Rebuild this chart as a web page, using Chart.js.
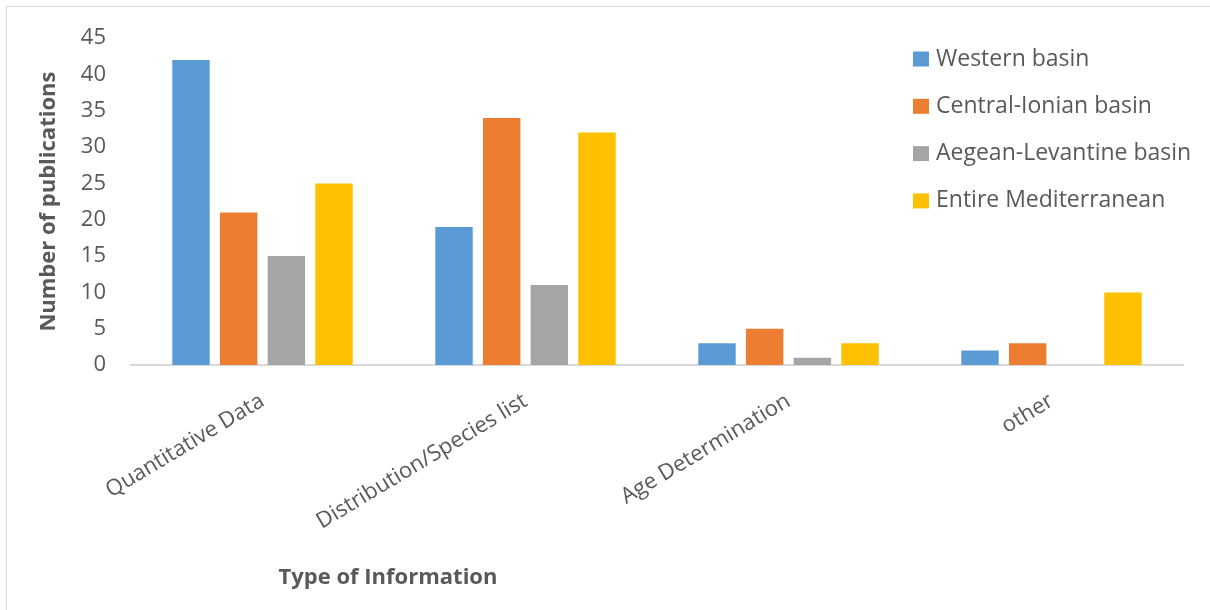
<!DOCTYPE html>
<html>
<head>
<meta charset="utf-8">
<script src="https://cdn.jsdelivr.net/npm/chart.js@4.4.0/dist/chart.umd.min.js"></script>
<style>
    html, body { margin: 0; padding: 0; background: #fff; overflow: hidden; }
    #frame {
        position: absolute; left: 6px; top: 6px;
        width: 1220px; height: 620px;
        border: 1px solid #d9d9d9;
    }
    #chart { position: absolute; left: 0; top: 0; }
</style>
</head>
<body>
<div id="frame"></div>
<canvas id="chart" width="1210" height="610"></canvas>
<script>
// Publications per type of information, split by Mediterranean sub-basin
const categories = ["Quantitative Data", "Distribution/Species list", "Age Determination", "other"];
const seriesNames = ["Western basin", "Central-Ionian basin", "Aegean-Levantine basin", "Entire Mediterranean"];
const western = [42, 19, 3, 2];
const centralIonian = [21, 34, 5, 3];
const aegeanLevantine = [15, 11, 1, 0];
const entireMediterranean = [25, 32, 3, 10];
const yTicks = [0, 5, 10, 15, 20, 25, 30, 35, 40, 45];

const seriesColors = ["#5b9bd5", "#ed7d31", "#a5a5a5", "#ffc000"];
const textColor = "#595959";
const xTitle = "Type of Information";
const yTitle = "Number of publications";

const allSeries = [western, centralIonian, aegeanLevantine, entireMediterranean];

// legend sits over the plot, top right, and the x title is drawn off-centre
const overlay = {
    id: "overlay",
    afterDraw(chart) {
        const ctx = chart.ctx;
        ctx.save();
        ctx.font = '23px "Open Sans"';
        ctx.textBaseline = "middle";
        ctx.textAlign = "left";
        chart.data.datasets.forEach((ds, i) => {
            const y = 59 + i * 47.3;
            ctx.fillStyle = ds.backgroundColor;
            ctx.fillRect(913, y - 7.5, 16, 15);
            ctx.fillStyle = textColor;
            ctx.fillText(ds.label, 936, y);
        });
        ctx.font = 'bold 22px "Open Sans"';
        ctx.textAlign = "center";
        ctx.fillStyle = textColor;
        ctx.fillText(xTitle, 388, 578);
        ctx.restore();
    },
};

new Chart(document.getElementById("chart").getContext("2d"), {
    type: "bar",
    data: {
        labels: categories,
        datasets: allSeries.map((values, i) => ({
            label: seriesNames[i],
            data: values,
            backgroundColor: seriesColors[i],
            borderWidth: 0,
            categoryPercentage: 0.725,
            barPercentage: 0.785,
        })),
    },
    options: {
        responsive: false,
        animation: false,
        layout: { padding: { top: 37, right: 27, left: 0, bottom: 0 } },
        plugins: {
            legend: { display: false },
            tooltip: { enabled: false },
        },
        scales: {
            x: {
                grid: { display: false, drawTicks: false },
                border: { display: true, color: "#d9d9d9", width: 2 },
                ticks: {
                    color: textColor,
                    font: { family: "Open Sans", size: 22 },
                    minRotation: 31,
                    maxRotation: 31,
                    padding: 23,
                },
                afterFit(scale) { scale.height = 245; },
            },
            y: {
                min: 0,
                max: 45,
                afterBuildTicks(scale) { scale.ticks = yTicks.map(v => ({ value: v })); },
                grid: { display: false, drawTicks: false },
                border: { display: false },
                ticks: {
                    color: textColor,
                    font: { family: "Open Sans", size: 22 },
                    padding: 25,
                },
                title: {
                    display: true,
                    text: yTitle,
                    color: textColor,
                    font: { family: "Open Sans", size: 22, weight: "bold" },
                    padding: { top: 36, bottom: 0 },
                },
                afterFit(scale) { scale.width = 131; },
            },
        },
    },
    plugins: [overlay],
});
</script>
</body>
</html>
